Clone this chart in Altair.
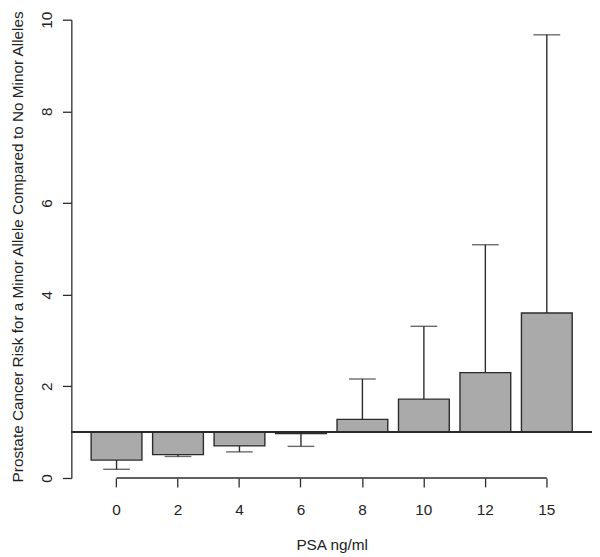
import altair as alt
import pandas as pd

categories = ["0", "2", "4", "6", "8", "10", "12", "15"]
odds_ratio = [0.39, 0.51, 0.70, 0.97, 1.28, 1.72, 2.30, 3.60]
ci_bound = [0.19, 0.47, 0.57, 0.69, 2.16, 3.31, 5.09, 9.67]
y_ticks = [0, 2, 4, 6, 8, 10]
reference_level = 1

df = pd.DataFrame({"psa": categories, "or": odds_ratio, "ci": ci_bound})
axis_line = pd.DataFrame({"start": [categories[0]], "end": [categories[-1]]})

FONT = "Liberation Sans"
INK = "#2b2b2b"
FS = 15.5

xscale = alt.Scale(domain=categories, paddingInner=0.174, paddingOuter=0.322)
yscale = alt.Scale(domain=[0, 10], nice=False, zero=False)

x_enc = alt.X(
    "psa:N", scale=xscale, sort=categories,
    axis=alt.Axis(
        title="PSA ng/ml", labelAngle=0, domain=False, ticks=True, tickSize=9,
        tickColor=INK, tickWidth=1.3, labelPadding=28, labelBaseline="alphabetic",
        labelFontSize=FS, labelFont=FONT, labelColor="#222",
        titleFont=FONT, titleFontSize=FS, titleFontWeight="normal", titleColor="#222",
        titleBaseline="alphabetic", titleY=72, grid=False,
    ),
)
y_enc = alt.Y(
    "or:Q", scale=yscale,
    axis=alt.Axis(
        title="Prostate Cancer Risk for a Minor Allele Compared to No Minor Alleles",
        values=y_ticks, grid=False, tickSize=9, tickColor=INK, tickWidth=1.3,
        domainColor=INK, domainWidth=1.3,
        labelAngle=270, labelAlign="center", labelBaseline="alphabetic", labelPadding=11,
        labelFontSize=FS, labelFont=FONT, labelColor="#222",
        titleFont=FONT, titleFontSize=FS, titleFontWeight="normal", titleColor="#222",
        titleAngle=270, titleAlign="center", titleBaseline="alphabetic",
        titleX=-49, titleY=229,
    ),
)

bars = alt.Chart(df).mark_bar(fill="#aaaaaa", stroke=INK, strokeWidth=1.4).encode(
    x=x_enc, y=y_enc, y2=alt.datum(reference_level)
)

err = alt.Chart(df).mark_rule(color=INK, strokeWidth=1.4).encode(
    x=alt.X("psa:N", scale=xscale, sort=categories),
    y=alt.Y("or:Q", scale=yscale),
    y2="ci:Q",
)

caps = alt.Chart(df).mark_tick(color=INK, size=27, thickness=1.4).encode(
    x=alt.X("psa:N", scale=xscale, sort=categories),
    y=alt.Y("ci:Q", scale=yscale),
)

hline = alt.Chart(df).mark_rule(color=INK, strokeWidth=1.2).encode(
    y=alt.datum(reference_level)
)

xline = alt.Chart(axis_line).mark_rule(color=INK, strokeWidth=1.3).encode(
    x=alt.X("start:N", scale=xscale),
    x2="end:N",
    y=alt.datum(0),
)

chart = alt.layer(bars, err, caps, hline, xline).properties(
    width=526, height=463,
    autosize=alt.AutoSizeParams(type="none"),
    padding={"left": 64, "top": 9, "right": 0, "bottom": 77},
    background="white",
).configure_view(stroke=None)

chart.save("out.html", embed_options={"renderer": "svg", "actions": False})
